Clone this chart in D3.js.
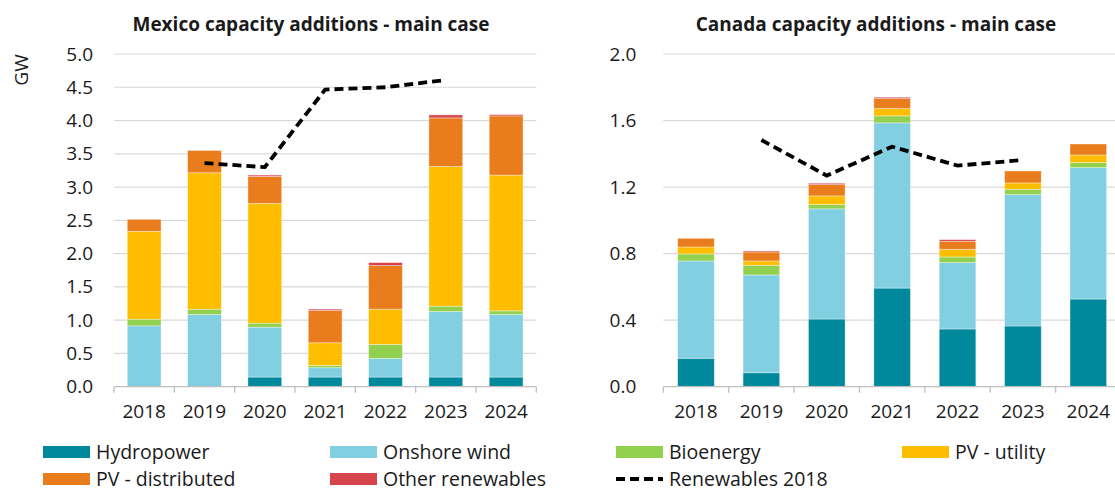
<!DOCTYPE html>
<html>
<head>
<meta charset="utf-8">
<script src="https://cdn.jsdelivr.net/npm/d3@7"></script>
<style>
  body { margin: 0; background: #fff; }
  text { font-family: "Open Sans", "Noto Sans", sans-serif; fill: #1a1a1a; }
</style>
</head>
<body>
<script>
// categories
const years = ["2018", "2019", "2020", "2021", "2022", "2023", "2024"];
const seriesNames = ["Hydropower", "Onshore wind", "Bioenergy", "PV - utility", "PV - distributed", "Other renewables"];
const seriesColors = ["#00889D", "#83CFE2", "#92D050", "#FFBD00", "#E97D1E", "#D6454B"];
const lineName = "Renewables 2018";

// Mexico (GW)
const mexHydro   = [0, 0, 0.145, 0.145, 0.145, 0.145, 0.145];
const mexWind    = [0.915, 1.085, 0.75, 0.14, 0.28, 0.985, 0.94];
const mexBio     = [0.10, 0.08, 0.06, 0.035, 0.21, 0.08, 0.055];
const mexPvUtil  = [1.32, 2.05, 1.80, 0.34, 0.53, 2.10, 2.04];
const mexPvDist  = [0.18, 0.335, 0.405, 0.485, 0.655, 0.73, 0.89];
const mexOther   = [0, 0, 0.02, 0.02, 0.045, 0.045, 0.02];
const mexLine    = [null, 3.36, 3.30, 4.465, 4.50, 4.61, null];
const mexTicks   = [0, 0.5, 1, 1.5, 2, 2.5, 3, 3.5, 4, 4.5, 5];

// Canada (GW)
const canHydro   = [0.171, 0.084, 0.407, 0.593, 0.347, 0.365, 0.527];
const canWind    = [0.585, 0.588, 0.662, 0.993, 0.399, 0.790, 0.790];
const canBio     = [0.042, 0.058, 0.026, 0.042, 0.034, 0.032, 0.030];
const canPvUtil  = [0.042, 0.026, 0.052, 0.044, 0.046, 0.038, 0.046];
const canPvDist  = [0.052, 0.054, 0.068, 0.060, 0.048, 0.072, 0.066];
const canOther   = [0, 0.006, 0.008, 0.008, 0.010, 0, 0];
const canLine    = [null, 1.483, 1.269, 1.443, 1.329, 1.363, null];
const canTicks   = [0, 0.4, 0.8, 1.2, 1.6, 2.0];

const W = 1115, H = 492;
const svg = d3.select("body").append("svg")
  .attr("width", W).attr("height", H);

function drawChart(cfg) {
  const x = d3.scaleBand().domain(years)
    .range([cfg.x0, cfg.x1]).paddingInner(0.44).paddingOuter(0.22);
  const y = d3.scaleLinear().domain([0, cfg.max]).range([386.7, 54]);
  const g = svg.append("g");

  // gridlines
  g.selectAll("line.grid").data(cfg.ticks.slice(1)).join("line")
    .attr("x1", cfg.x0).attr("x2", cfg.x1)
    .attr("y1", d => y(d)).attr("y2", d => y(d))
    .attr("stroke", "#d9d9d9").attr("stroke-width", 1.2);

  // stacked bars
  const rows = years.map((yr, i) => {
    const r = { year: yr };
    seriesNames.forEach((s, k) => r[s] = cfg.values[k][i]);
    return r;
  });
  const stack = d3.stack().keys(seriesNames)(rows);
  g.selectAll("g.series").data(stack).join("g")
    .attr("fill", (d, k) => seriesColors[k])
    .selectAll("rect").data(d => d).join("rect")
    .attr("x", d => x(d.data.year))
    .attr("width", x.bandwidth())
    .attr("y", d => y(d[1]))
    .attr("height", d => Math.max(0, y(d[0]) - y(d[1])))
    .attr("stroke", "#ffffff").attr("stroke-opacity", 0.45).attr("stroke-width", 0.8);

  // x axis
  g.append("line")
    .attr("x1", cfg.x0).attr("x2", cfg.x1)
    .attr("y1", y(0)).attr("y2", y(0))
    .attr("stroke", "#bfbfbf").attr("stroke-width", 1.3);
  g.selectAll("line.xtick").data(d3.range(years.length + 1)).join("line")
    .attr("x1", i => cfg.x0 + i * x.step()).attr("x2", i => cfg.x0 + i * x.step())
    .attr("y1", y(0)).attr("y2", y(0) + 6)
    .attr("stroke", "#bfbfbf").attr("stroke-width", 1.3);

  const xAxis = g.append("g").attr("transform", `translate(0,${y(0)})`)
    .call(d3.axisBottom(x).tickSize(0).tickPadding(18));
  xAxis.select(".domain").remove();
  xAxis.selectAll("text").style("font-size", "19px").attr("fill", "#1a1a1a")
    .style("font-family", "'Open Sans', sans-serif");

  const yAxis = g.append("g").attr("transform", `translate(${cfg.x0},0)`)
    .call(d3.axisLeft(y).tickValues(cfg.ticks).tickFormat(d3.format(".1f"))
      .tickSize(0).tickPadding(cfg.yPad));
  yAxis.select(".domain").remove();
  yAxis.selectAll("text").style("font-size", "19px").attr("fill", "#1a1a1a")
    .style("font-family", "'Open Sans', sans-serif");

  // dashed line
  const line = d3.line()
    .defined(d => d != null)
    .x((d, i) => x(years[i]) + x.bandwidth() / 2)
    .y(d => y(d));
  g.append("path").datum(cfg.line)
    .attr("d", line)
    .attr("fill", "none").attr("stroke", "#000")
    .attr("stroke-width", 3.8).attr("stroke-dasharray", "9,5");

  // title
  g.append("text")
    .attr("x", cfg.titleX).attr("y", 31)
    .attr("text-anchor", "middle")
    .style("font-size", "19px").style("font-weight", "bold")
    .attr("fill", "#000")
    .text(cfg.title);
}

drawChart({
  title: "Mexico capacity additions - main case", titleX: 311,
  x0: 114, x1: 536.3, max: 5, ticks: mexTicks, yPad: 21,
  values: [mexHydro, mexWind, mexBio, mexPvUtil, mexPvDist, mexOther],
  line: mexLine
});
drawChart({
  title: "Canada capacity additions - main case", titleX: 876,
  x0: 663.3, x1: 1121, max: 2, ticks: canTicks, yPad: 27,
  values: [canHydro, canWind, canBio, canPvUtil, canPvDist, canOther],
  line: canLine
});

// GW label
svg.append("text")
  .attr("transform", "translate(28,70) rotate(-90)")
  .attr("text-anchor", "middle")
  .style("font-size", "19px")
  .text("GW");

// legend
const legendItems = seriesNames.map((s, k) => ({ name: s, color: seriesColors[k], dash: false }))
  .concat([{ name: lineName, color: "#000", dash: true }]);
const legendX = [43, 330, 616, 902];
const legendY = [452, 479];
const lg = svg.append("g").selectAll("g").data(legendItems).join("g")
  .attr("transform", (d, i) => `translate(${legendX[i % 4]},${legendY[Math.floor(i / 4)]})`);
lg.filter(d => !d.dash).append("rect")
  .attr("x", 0).attr("y", -6).attr("width", 47).attr("height", 12)
  .attr("fill", d => d.color);
lg.filter(d => d.dash).append("line")
  .attr("x1", 0).attr("x2", 47).attr("y1", 0).attr("y2", 0)
  .attr("stroke", "#000").attr("stroke-width", 3.8).attr("stroke-dasharray", "9,5");
lg.append("text")
  .attr("x", 53).attr("y", 0).attr("dy", "0.35em")
  .style("font-size", "19.5px")
  .text(d => d.name);
</script>
</body>
</html>
